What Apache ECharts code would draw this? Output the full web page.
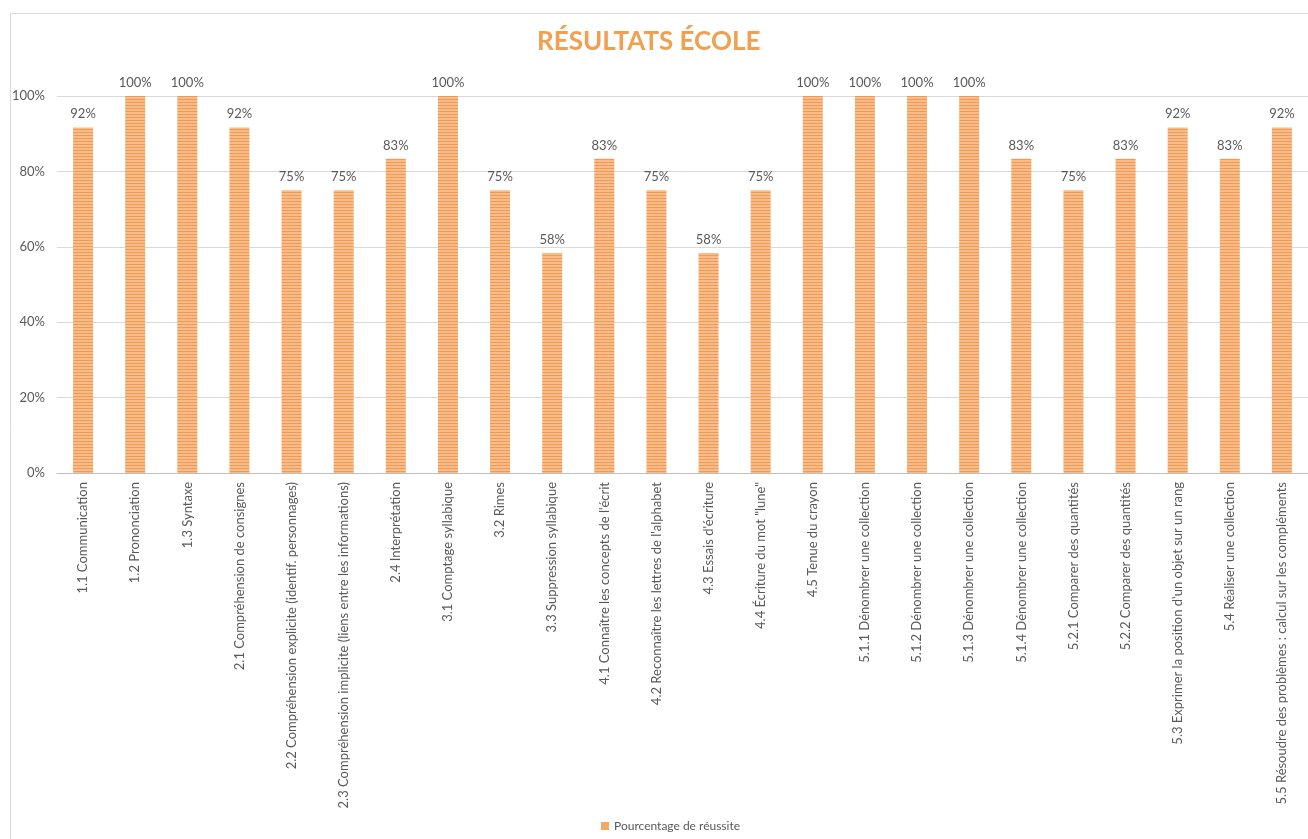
<!DOCTYPE html>
<html><head><meta charset="utf-8">
<script src="https://cdn.jsdelivr.net/npm/echarts@6/dist/echarts.min.js"></script>
<style>html,body{margin:0;padding:0;background:#fff}#c{width:1308px;height:839px}</style>
</head><body><div id="c"></div>
<script>
const categories = [
  "1.1 Communication","1.2 Prononciation","1.3 Syntaxe","2.1 Compréhension de consignes",
  "2.2 Compréhension explicite (identif. personnages)","2.3 Compréhension implicite (liens entre les informations)",
  "2.4 Interprétation","3.1 Comptage syllabique","3.2 Rimes","3.3 Suppression syllabique",
  "4.1 Connaître les concepts de l'écrit","4.2 Reconnaître les lettres de l'alphabet","4.3 Essais d'écriture",
  "4.4 Écriture du mot \"lune\"","4.5 Tenue du crayon","5.1.1 Dénombrer une collection",
  "5.1.2 Dénombrer une collection","5.1.3 Dénombrer une collection","5.1.4 Dénombrer une collection",
  "5.2.1 Comparer des quantités","5.2.2 Comparer des quantités","5.3 Exprimer la position d'un objet sur un rang",
  "5.4 Réaliser une collection","5.5 Résoudre des problèmes : calcul sur les compléments"
];
const values = [91.67,100,100,91.67,75,75,83.33,100,75,58.33,83.33,75,58.33,75,100,100,100,100,83.33,75,83.33,91.67,83.33,91.67];
const yTicks = [0,20,40,60,80,100];
const seriesName = "Pourcentage de réussite";

const pc = document.createElement('canvas');
pc.width = 4; pc.height = 3;
const g = pc.getContext('2d');
g.fillStyle = '#F7BC8A'; g.fillRect(0,0,4,3);
g.fillStyle = '#EF9A55'; g.fillRect(0,0,4,1);
const barFill = {image: pc, repeat: 'repeat'};

const F = 'Lato';
const chart = echarts.init(document.getElementById('c'), null, {renderer:'canvas'});
chart.setOption({
  animation:false,
  backgroundColor:'#fff',
  graphic:[{type:'rect',shape:{x:10.5,y:13.5,width:1320,height:840},style:{fill:'none',stroke:'#d9d9d9',lineWidth:1},silent:true,z:-1}],
  title:{text:'RÉSULTATS ÉCOLE',left:532,top:24,textStyle:{color:'#F0A050',fontSize:26,fontWeight:'bold',fontFamily:F}},
  legend:{bottom:2,left:596,itemWidth:8,itemHeight:8,itemGap:4,icon:'rect',textStyle:{color:'#595959',fontSize:12,fontFamily:F},data:[{name:seriesName,itemStyle:{color:'#F2A765'}}]},
  grid:{left:57,right:-10,top:96,bottom:366,containLabel:false},
  xAxis:{type:'category',data:categories,
    axisLine:{lineStyle:{color:'#bfbfbf',width:1}},axisTick:{show:false},
    axisLabel:{rotate:90,interval:0,color:'#595959',fontSize:13,fontFamily:F,margin:9}},
  yAxis:{type:'value',min:0,max:100,interval:20,
    axisLabel:{formatter:v=>yTicks.includes(v)?v+'%':'',color:'#595959',fontSize:13,fontFamily:F,margin:12},
    splitLine:{lineStyle:{color:'#d9d9d9'}},axisLine:{show:false},axisTick:{show:false}},
  series:[{name:seriesName,type:'bar',data:values,barWidth:20,
    itemStyle:{color:barFill},
    label:{show:true,position:'top',distance:7,formatter:p=>Math.round(p.value)+'%',color:'#595959',fontSize:13,fontFamily:F}}]
});
</script></body></html>
